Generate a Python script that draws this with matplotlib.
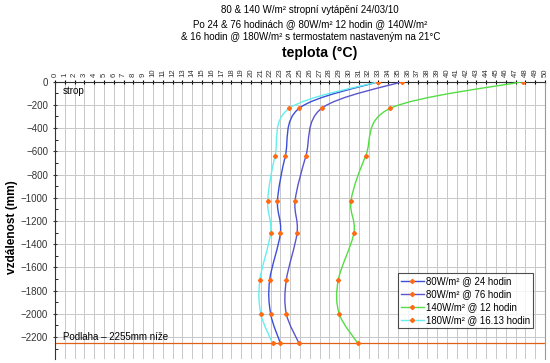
import matplotlib
matplotlib.use("Agg")
import matplotlib.pyplot as plt
from matplotlib.path import Path
from matplotlib.patches import PathPatch
import numpy as np

plt.rcParams['font.family'] = ['Liberation Sans', 'DejaVu Sans']

depth = [0, -230, -640, -1025, -1300, -1710, -2000, -2255]
s_80_24 = [33.0, 24.9, 23.5, 22.7, 23.0, 21.9, 22.0, 23.0]
s_80_76 = [35.4, 27.2, 25.6, 24.5, 24.7, 23.6, 23.6, 24.9]
s_140_12 = [47.7, 34.2, 31.7, 30.2, 30.5, 28.9, 29.0, 30.9]
s_180_16 = [33.0, 23.9, 22.45, 21.7, 22.0, 20.9, 21.0, 22.2]
labels = ["80W/m² @ 24 hodin", "80W/m² @ 76 hodin", "140W/m² @ 12 hodin", "180W/m² @ 16.13 hodin"]
colors = ["#3b4fd8", "#5a55cc", "#55dd44", "#66eeee"]
series = [s_80_24, s_80_76, s_140_12, s_180_16]
floor_depth = -2255

fig = plt.figure(figsize=(5.5, 3.63), dpi=100)
ax = fig.add_axes([0.1, 0.011, 0.891, 0.764])


def smooth_path(xs, ys, t=1/6):
    # Excel-like smoothed line drawn as cubic Bezier segments through the data points
    pts = np.column_stack([xs, ys]).astype(float)
    n = len(pts)
    verts = [pts[0]]
    codes = [Path.MOVETO]
    for i in range(n - 1):
        p0 = pts[i - 1] if i > 0 else pts[i]
        p1 = pts[i]
        p2 = pts[i + 1]
        p3 = pts[i + 2] if i + 2 < n else pts[i + 1]
        c1 = p1 + (p2 - p0) * t
        c2 = p2 - (p3 - p1) * t
        verts += [c1, c2, p2]
        codes += [Path.CURVE4] * 3
    return Path(verts, codes)


for s, c, lab in zip(series, colors, labels):
    ax.add_patch(PathPatch(smooth_path(s, depth), fill=False, edgecolor=c, lw=1.0, zorder=3))
    ax.plot(s, depth, linestyle='none', marker='D', markersize=2.1, color='#ff6a13', zorder=4)
    ax.plot([], [], color=c, lw=1.0, marker='D', markersize=2.1,
            markerfacecolor='#ff6a13', markeredgecolor='#ff6a13', label=lab)

ax.axhline(floor_depth, color='#e0601a', lw=0.9, zorder=2)

ax.set_xlim(0, 50)
ax.set_ylim(-2390, 0)
ax.xaxis.tick_top()
ax.set_xticks(range(0, 51))
ax.set_xticklabels([str(i) for i in range(0, 51)], rotation=90, fontsize=5.6, color='#333333')
ax.set_yticks(range(0, -2201, -200))
ax.set_yticks(range(0, -2301, -100), minor=True)
ax.tick_params(axis='y', labelsize=7, colors='#333333', length=3, direction='inout')
ax.tick_params(axis='y', which='minor', length=2, direction='in')
ax.tick_params(axis='x', length=3, direction='inout', pad=2)
ax.grid(True, axis='x', color='#c8c8c8', lw=0.7)
ax.grid(True, axis='y', color='#c8c8c8', lw=0.7)
ax.set_axisbelow(True)
ax.spines['bottom'].set_visible(False)
ax.spines['right'].set_color('#999999')
ax.spines['top'].set_color('#333333')
ax.spines['left'].set_color('#333333')

ax.text(0.8, -80, "strop", fontsize=7, va='center', ha='left')
ax.text(0.8, -2200, "Podlaha – 2255mm níže", fontsize=7, va='center', ha='left')

fig.text(12 / 550, 1 - 227 / 363, "vzdálenost (mm)", rotation=90, ha='center', va='center',
         fontsize=8.6, fontweight='bold')

fig.text(0.564, 0.972, "80 & 140 W/m² stropní vytápění 24/03/10", ha='center', va='center', fontsize=7)
fig.text(0.564, 0.934, "Po 24 & 76 hodinách @ 80W/m² 12 hodin @ 140W/m²", ha='center', va='center', fontsize=7)
fig.text(0.564, 0.897, "& 16 hodin @ 180W/m² s termostatem nastaveným na 21°C", ha='center', va='center', fontsize=7)
fig.text(0.582, 0.855, "teplota (°C)", ha='center', va='center', fontsize=10.2, fontweight='bold')

leg = ax.legend(loc='lower right', bbox_to_anchor=(0.975, 0.112), fontsize=6.9, frameon=True,
                fancybox=False, edgecolor='#222222', borderpad=0.3, labelspacing=0.32,
                handlelength=2.4, handletextpad=0.2, borderaxespad=0)
leg.get_frame().set_linewidth(0.8)

fig.savefig("out.png", dpi=100)
